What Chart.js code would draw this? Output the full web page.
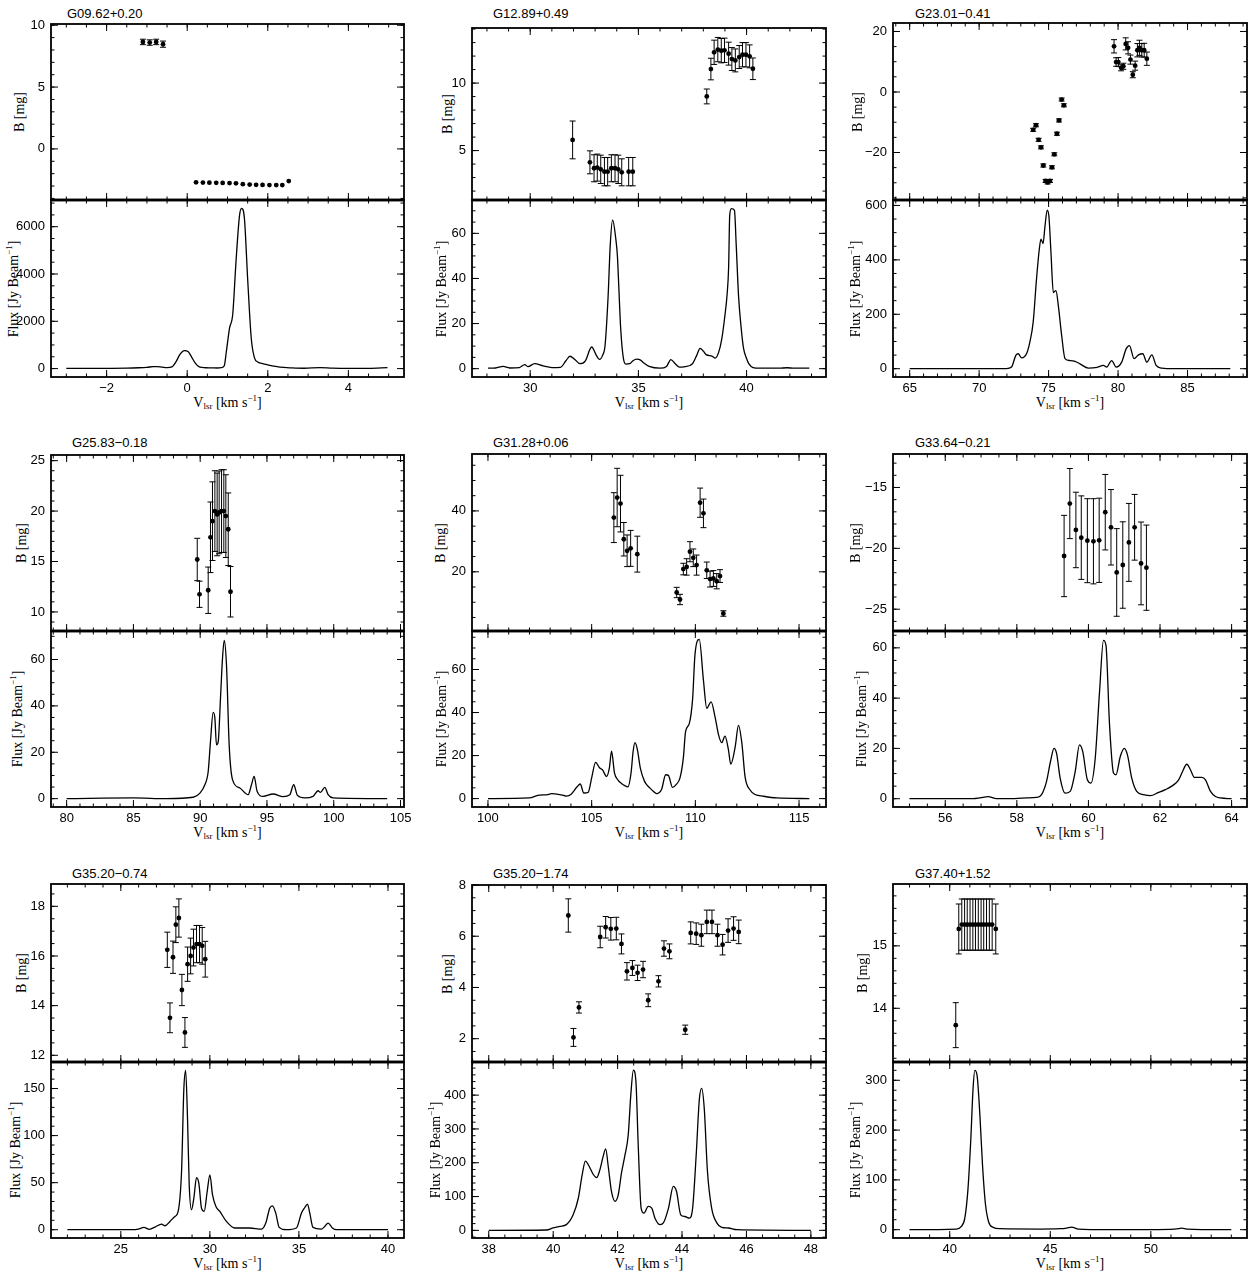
<!DOCTYPE html>
<html lang="en">
<head>
  <meta charset="UTF-8">
  <title>Zeeman B field and maser spectra</title>
  <script src="https://cdn.jsdelivr.net/npm/chart.js"></script>
  <style>
    html, body {
      margin: 0;
      padding: 0;
      width: 1250px;
      height: 1274px;
      overflow: hidden;
      background: #fff;
    }
    canvas { position: absolute; }
    .title {
      position: absolute;
      font: 13px "Liberation Sans", Arial, sans-serif;
      line-height: 1;
      white-space: nowrap;
      color: #000;
    }
    .ylab, .xlab {
      position: absolute;
      font: 14px "Liberation Serif", "Times New Roman", serif;
      line-height: 1;
      white-space: nowrap;
      color: #000;
    }
    .ylab { transform: translate(-50%, -50%) rotate(-90deg); }
    .xlab { transform: translate(-50%, -50%); }
    sub { font-size: 9px; vertical-align: -2px; }
    sup { font-size: 9px; vertical-align: 6px; }
  </style>
</head>
<body>
  <script>
    // ---- G09.62+0.20 ----
    const p1_name = 'G09.62+0.20';
    const p1_bV = [-1.10, -0.93, -0.77, -0.60, 0.22, 0.39, 0.55, 0.72, 0.88, 1.05, 1.21, 1.38, 1.55, 1.71, 1.87, 2.04, 2.21, 2.36, 2.52];
    const p1_b = [8.65, 8.60, 8.65, 8.47, -2.70, -2.72, -2.73, -2.74, -2.75, -2.76, -2.78, -2.85, -2.88, -2.90, -2.91, -2.92, -2.92, -2.92, -2.60];
    const p1_bErr = [0.22, 0.22, 0.22, 0.25, 0, 0, 0, 0, 0, 0, 0, 0, 0, 0, 0, 0, 0, 0, 0];
    const p1_sV = [-3.0, -2.5, -2.0, -1.5, -1.2, -1.0, -0.85, -0.75, -0.62, -0.5,
      -0.38, -0.28, -0.18, -0.07, 0.02, 0.1, 0.2, 0.3, 0.45, 0.6,
      0.75, 0.85, 0.92, 0.97, 1.05, 1.13, 1.21, 1.3, 1.35, 1.42,
      1.5, 1.59, 1.67, 1.75, 1.85, 2.0, 2.15, 2.3, 2.6, 2.9,
      3.3, 3.6, 4.0, 4.5, 4.97];
    const p1_s = [10, 10, 12, 18, 35, 55, 80, 85, 60, 40,
      70, 280, 600, 760, 720, 520, 230, 70, 35, 30,
      25, 40, 120, 700, 1700, 2300, 4500, 6500, 6780, 6350,
      3800, 1270, 450, 280, 220, 160, 100, 60, 30, 15,
      40, 20, 10, 10, 40];
    const p1_xTicks = [-2, 0, 2, 4];
    const p1_bTicks = [0, 5, 10];
    const p1_sTicks = [0, 2000, 4000, 6000];

    // ---- G12.89+0.49 ----
    const p2_name = 'G12.89+0.49';
    const p2_bV = [31.96, 32.76, 32.95, 33.10, 33.26, 33.43, 33.58, 33.75, 33.92, 34.07, 34.23, 34.55, 34.74,
      38.16, 38.35, 38.50, 38.67, 38.83, 38.98, 39.17, 39.32, 39.48, 39.66, 39.81, 39.97, 40.14, 40.29];
    const p2_b = [5.79, 4.13, 3.69, 3.74, 3.61, 3.44, 3.44, 3.69, 3.69, 3.61, 3.39, 3.44, 3.44,
      9.01, 11.04, 12.28, 12.48, 12.40, 12.43, 12.18, 11.78, 11.68, 11.93, 12.10, 12.10, 11.98, 11.06];
    const p2_bErr = [1.4, 0.85, 1.0, 1.0, 1.05, 1.05, 1.05, 1.0, 1.0, 1.05, 1.0, 1.05, 1.05,
      0.55, 0.8, 0.9, 0.9, 0.9, 0.9, 0.85, 0.85, 0.85, 0.85, 0.9, 0.9, 0.85, 0.8];
    const p2_sV = [28.05, 28.4, 28.75, 29.05, 29.5, 29.75, 29.9, 30.2, 30.6, 31.0,
      31.4, 31.65, 31.84, 32.05, 32.3, 32.55, 32.84, 33.05, 33.2, 33.35,
      33.46, 33.6, 33.7, 33.81, 33.95, 34.03, 34.1, 34.18, 34.3, 34.42,
      34.6, 34.75, 34.92, 35.1, 35.25, 35.5, 36.0, 36.3, 36.5, 36.7,
      36.9, 37.1, 37.5, 37.7, 37.85, 38.0, 38.13, 38.4, 38.55, 38.7,
      38.85, 39.0, 39.1, 39.17, 39.22, 39.3, 39.44, 39.52, 39.63, 39.75,
      39.86, 40.0, 40.1, 40.3, 40.6, 41.5, 41.87, 42.2, 42.9];
    const p2_s = [0.2, 0.3, 1.0, 0.3, 0.5, 1.8, 0.9, 2.2, 1.2, 0.5,
      0.6, 3.5, 5.5, 4.2, 2.2, 3.5, 9.6, 6, 4.1, 6,
      10.4, 32, 55, 66, 58, 50, 35, 18, 5, 2,
      2.2, 3.5, 4.2, 3.8, 2.5, 1, 0.2, 1, 4.0, 2.2,
      0.7, 0.8, 2.2, 6, 9, 7.8, 6.2, 5.6, 4.7, 7,
      13, 23.7, 33, 45, 68, 71, 70.2, 55, 32, 18,
      9, 4.5, 2.2, 0.5, 0.2, 0.2, 0.4, 0.2, 0.2];
    const p2_xTicks = [30, 35, 40];
    const p2_bTicks = [5, 10];
    const p2_sTicks = [0, 20, 40, 60];

    // ---- G23.01-0.41 ----
    const p3_name = 'G23.01\u22120.41';
    const p3_bV = [73.89, 74.09, 74.28, 74.45, 74.62, 74.78, 74.93, 75.10, 75.24, 75.41, 75.60, 75.75, 75.94, 76.10,
      79.71, 79.86, 80.02, 80.22, 80.38, 80.55, 80.72, 80.89, 81.06, 81.23, 81.39, 81.54, 81.71, 81.88, 82.07];
    const p3_b = [-12.5, -11.0, -15.8, -18.3, -24.3, -29.4, -29.9, -29.4, -24.9, -20.6, -13.8, -9.4, -2.5, -4.4,
      15.1, 9.9, 9.9, 8.0, 8.5, 15.9, 14.6, 10.7, 5.7, 8.7, 13.8, 14.6, 13.8, 13.8, 11.0];
    const p3_bErr = [0.5, 0.5, 0.5, 0.5, 0.5, 0.5, 0.5, 0.5, 0.5, 0.5, 0.5, 0.5, 0.5, 0.5,
      2.2, 1.4, 1.5, 1.0, 1.0, 2.0, 2.0, 1.5, 1.0, 1.5, 2.2, 2.5, 2.2, 2.3, 2.2];
    const p3_sV = [65, 70, 71.97, 72.33, 72.64, 72.81, 73.05, 73.41, 73.65, 73.89,
      74.13, 74.33, 74.45, 74.6, 74.74, 74.9, 75.02, 75.17, 75.34, 75.53,
      75.7, 75.94, 76.18, 76.54, 76.9, 77.26, 77.86, 78.5, 78.94, 79.18,
      79.54, 79.86, 80.26, 80.58, 80.82, 81.15, 81.47, 81.78, 82.07, 82.43,
      82.74, 83.15, 84, 88.08];
    const p3_s = [0, 0, 0, 6, 49, 55, 40, 55, 98, 171,
      330, 439, 476, 460, 524, 583, 561, 427, 280, 287,
      232, 122, 37, 30, 27, 18, 2, 5, 12, 6,
      30, 6, 24, 73, 85, 37, 51, 55, 24, 51,
      12, 2, 0, 0];
    const p3_xTicks = [65, 70, 75, 80, 85];
    const p3_bTicks = [-20, 0, 20];
    const p3_sTicks = [0, 200, 400, 600];

    // ---- G25.83-0.18 ----
    const p4_name = 'G25.83\u22120.18';
    const p4_bV = [89.78, 89.95, 90.60, 90.77, 90.92, 91.10, 91.27, 91.42, 91.60, 91.77, 91.92, 92.10, 92.27];
    const p4_b = [15.2, 11.75, 12.15, 17.4, 19.0, 20.0, 19.67, 19.87, 20.0, 20.0, 19.5, 18.2, 12.0];
    const p4_bErr = [2.1, 1.3, 2.3, 3.5, 3.9, 4.0, 4.1, 4.1, 4.1, 4.1, 4.1, 3.6, 2.5];
    const p4_sV = [80, 85, 87.5, 89.48, 89.98, 90.35, 90.6, 90.77, 90.97, 91.1,
      91.22, 91.35, 91.52, 91.67, 91.8, 91.97, 92.17, 92.42, 92.97, 93.59,
      93.84, 94.04, 94.26, 94.71, 95.46, 96.21, 96.71, 97.0, 97.28, 97.83,
      98.45, 98.83, 99.0, 99.33, 99.58, 99.95, 104];
    const p4_s = [0, 0.3, 0, 0.6, 2.4, 6, 11.7, 24.6, 37.2, 34.7,
      23.2, 24.6, 43.3, 60.5, 68.3, 57.6, 23.2, 8.2, 4.6, 1.7,
      6, 9.6, 3.2, 1, 2, 0.9, 1.7, 6, 1.4, 0.3,
      1, 3.4, 2.7, 4.9, 1.7, 0.3, 0];
    const p4_xTicks = [80, 85, 90, 95, 100, 105];
    const p4_bTicks = [10, 15, 20, 25];
    const p4_sTicks = [0, 20, 40, 60];

    // ---- G31.28+0.06 ----
    const p5_name = 'G31.28+0.06';
    const p5_bV = [106.07, 106.23, 106.39, 106.55, 106.71, 106.88, 107.20, 109.10, 109.26, 109.42, 109.58,
      109.74, 109.90, 110.06, 110.23, 110.39, 110.55, 110.71, 110.87, 111.03, 111.19, 111.35];
    const p5_b = [37.8, 44.4, 42.4, 30.7, 26.9, 27.7, 25.8, 13.2, 10.9, 20.9, 21.6,
      26.6, 24.6, 22.2, 42.7, 39.2, 20.5, 17.6, 17.8, 16.9, 18.6, 6.3];
    const p5_bErr = [8.2, 9.6, 9.3, 5.5, 5.2, 5.9, 5.9, 1.7, 1.7, 1.9, 2.7,
      3.3, 2.9, 3.3, 4.8, 4.7, 2.7, 2.6, 2.6, 2.5, 2.1, 0.9];
    const p5_sV = [100, 102.0, 102.4, 102.9, 103.06, 103.46, 103.78, 104.0, 104.3, 104.45,
      104.62, 104.83, 105.0, 105.19, 105.39, 105.52, 105.72, 105.85, 105.96, 106.1,
      106.28, 106.44, 106.6, 106.75, 106.9, 107.0, 107.09, 107.2, 107.35, 107.55,
      107.8, 107.97, 108.13, 108.37, 108.57, 108.7, 108.9, 109.07, 109.26, 109.42,
      109.53, 109.71, 109.87, 109.98, 110.19, 110.39, 110.55, 110.76, 110.95, 111.11,
      111.27, 111.43, 111.59, 111.71, 111.92, 112.08, 112.24, 112.4, 112.64, 112.88,
      113.29, 113.93, 115.5];
    const p5_s = [0, 0.3, 1.5, 1.9, 2.3, 1.9, 1.2, 1.9, 5.5, 6.8,
      2.6, 2.9, 9.6, 16.8, 14.2, 13.4, 10.3, 14, 22, 12,
      8.5, 7, 6, 5.5, 12, 22, 26, 23, 14, 8,
      5, 3.4, 2.3, 4.2, 11.1, 10.8, 5.2, 6.5, 9.6, 18.8,
      31.2, 35, 46.6, 66.7, 74, 55, 42, 45, 38, 30,
      26, 29, 23, 16, 24, 34, 26, 10, 4, 1.9,
      1.1, 0.3, 0];
    const p5_xTicks = [100, 105, 110, 115];
    const p5_bTicks = [20, 40];
    const p5_sTicks = [0, 20, 40, 60];

    // ---- G33.64-0.21 ----
    const p6_name = 'G33.64\u22120.21';
    const p6_bV = [59.32, 59.48, 59.65, 59.80, 59.97, 60.14, 60.30, 60.47, 60.63, 60.79, 60.96, 61.13, 61.29, 61.47, 61.62];
    const p6_b = [-20.63, -16.32, -18.49, -19.12, -19.37, -19.42, -19.34, -17.03, -18.27, -21.98, -21.37, -19.51, -18.27, -21.24, -21.59];
    const p6_bErr = [3.34, 2.88, 3.1, 3.43, 3.45, 3.5, 3.46, 3.1, 3.1, 3.6, 3.55, 3.2, 2.7, 3.4, 3.5];
    const p6_sV = [55, 56.78, 56.97, 57.2, 57.43, 57.71, 58.27, 58.55, 58.69, 58.83,
      58.94, 59.04, 59.11, 59.21, 59.35, 59.49, 59.63, 59.75, 59.84, 59.97,
      60.07, 60.19, 60.31, 60.42, 60.49, 60.59, 60.7, 60.77, 60.89, 61.0,
      61.09, 61.21, 61.35, 61.54, 61.73, 61.96, 62.15, 62.38, 62.52, 62.61,
      62.75, 62.85, 62.96, 63.17, 63.27, 63.41, 63.55, 63.69, 64];
    const p6_s = [0, 0, 0.3, 0.8, 0, 0, 0.3, 0.5, 1.6, 6.9,
      14.8, 20, 18, 8.2, 2.2, 2.9, 10.8, 21.4, 18.8, 7.5,
      6.2, 16.1, 42.5, 63, 61, 29.3, 10.2, 9.5, 16.8, 20,
      17.4, 8.2, 2.9, 1.6, 1.2, 2.5, 3.6, 5.5, 7.5, 10.2,
      13.7, 11.5, 8.5, 8.5, 7.5, 2.9, 0.9, 0.3, 0];
    const p6_xTicks = [56, 58, 60, 62, 64];
    const p6_bTicks = [-25, -20, -15];
    const p6_sTicks = [0, 20, 40, 60];

    // ---- G35.20-0.74 ----
    const p7_name = 'G35.20\u22120.74';
    const p7_bV = [27.61, 27.76, 27.93, 28.09, 28.26, 28.43, 28.60, 28.75, 28.92, 29.08, 29.25, 29.42, 29.57, 29.74];
    const p7_b = [16.25, 13.51, 15.95, 17.26, 17.53, 14.63, 12.92, 15.67, 16.0, 16.34, 16.48, 16.48, 16.41, 15.87];
    const p7_bErr = [0.71, 0.6, 0.65, 0.72, 0.77, 0.63, 0.6, 0.69, 0.72, 0.74, 0.75, 0.75, 0.74, 0.72];
    const p7_sV = [22, 25.7, 25.98, 26.3, 26.6, 26.92, 27.29, 27.48, 27.76, 28.04,
      28.22, 28.41, 28.54, 28.64, 28.75, 28.84, 28.97, 29.1, 29.25, 29.38,
      29.53, 29.68, 29.85, 30.0, 30.15, 30.34, 30.56, 30.93, 31.4, 32.24,
      32.9, 33.14, 33.36, 33.51, 33.7, 33.89, 34.3, 34.86, 35.14, 35.33,
      35.48, 35.61, 35.79, 36.26, 36.45, 36.64, 36.88, 37.1, 40];
    const p7_s = [0, 0, 0.7, 2.5, 0.4, 2.8, 6, 4.2, 8.8, 14.1,
      19.4, 61.8, 150, 169.4, 114.7, 47.7, 21.2, 33.5, 55.4, 49.4,
      22.9, 19.4, 40.6, 58.2, 37.1, 24.7, 19.4, 8.8, 1.8, 1.8,
      0.7, 7.1, 22.9, 25.4, 17.6, 2.5, 0, 1.8, 17.6, 23.6,
      27.2, 17.6, 2.5, 0.7, 3.5, 7.1, 1.8, 0, 0];
    const p7_xTicks = [25, 30, 35, 40];
    const p7_bTicks = [12, 14, 16, 18];
    const p7_sTicks = [0, 50, 100, 150];

    // ---- G35.20-1.74 ----
    const p8_name = 'G35.20\u22121.74';
    const p8_bV = [40.47, 40.63, 40.80, 41.46, 41.63, 41.79, 41.96, 42.12, 42.29, 42.46, 42.62, 42.79, 42.95,
      43.27, 43.44, 43.61, 44.10, 44.27, 44.44, 44.60, 44.77, 44.93, 45.10, 45.26, 45.43, 45.60, 45.76];
    const p8_b = [6.81, 2.05, 3.22, 5.97, 6.35, 6.29, 6.30, 5.70, 4.63, 4.76, 4.57, 4.70, 3.50,
      4.24, 5.52, 5.41, 2.35, 6.13, 6.10, 6.04, 6.56, 6.56, 6.04, 5.67, 6.22, 6.30, 6.17];
    const p8_bErr = [0.65, 0.35, 0.22, 0.42, 0.42, 0.44, 0.44, 0.39, 0.34, 0.29, 0.30, 0.32, 0.25,
      0.22, 0.30, 0.29, 0.18, 0.43, 0.42, 0.43, 0.46, 0.46, 0.43, 0.40, 0.46, 0.46, 0.46];
    const p8_sV = [38, 39.79, 40.0, 40.21, 40.41, 40.62, 40.78, 40.9, 41.0, 41.12,
      41.24, 41.35, 41.45, 41.55, 41.63, 41.71, 41.81, 41.92, 42.02, 42.12,
      42.23, 42.33, 42.41, 42.49, 42.57, 42.64, 42.73, 42.82, 42.95, 43.06,
      43.16, 43.32, 43.42, 43.58, 43.73, 43.83, 43.96, 44.09, 44.23, 44.33,
      44.44, 44.54, 44.61, 44.69, 44.79, 44.92, 45.08, 45.23, 45.44, 45.7,
      48];
    const p8_s = [0, 1, 7, 12, 17, 46, 95, 164, 205, 189,
      166, 156, 179, 218, 241, 189, 115, 86, 105, 169,
      223, 282, 400, 474, 439, 253, 66, 51, 71, 66,
      36, 17, 22, 66, 130, 115, 46, 41, 36, 66,
      223, 390, 420, 361, 174, 66, 22, 9, 7, 2,
      0];
    const p8_xTicks = [38, 40, 42, 44, 46, 48];
    const p8_bTicks = [2, 4, 6, 8];
    const p8_sTicks = [0, 100, 200, 300, 400];

    // ---- G37.40+1.52 ----
    const p9_name = 'G37.40+1.52';
    const p9_bV = [40.30, 40.45, 40.60, 40.74, 40.87, 41.01, 41.15, 41.28, 41.42, 41.56, 41.69, 41.83, 41.97, 42.11, 42.29];
    const p9_b = [13.73, 15.27, 15.34, 15.34, 15.34, 15.34, 15.34, 15.34, 15.34, 15.34, 15.34, 15.34, 15.34, 15.34, 15.27];
    const p9_bErr = [0.36, 0.40, 0.41, 0.41, 0.41, 0.41, 0.41, 0.41, 0.41, 0.41, 0.41, 0.41, 0.41, 0.41, 0.40];
    const p9_sV = [38, 40.33, 40.58, 40.75, 40.91, 41.05, 41.16, 41.25, 41.36, 41.5,
      41.63, 41.78, 41.94, 42.16, 42.49, 44.49, 45.48, 45.81, 46.06, 46.4,
      47.81, 50.96, 51.38, 51.54, 51.79, 54];
    const p9_s = [0, 1.3, 6.7, 23, 83, 183, 283, 320, 310, 230,
      130, 50, 15, 4.7, 2, 1.3, 2, 3.3, 5.3, 1.3,
      0, 0.7, 2, 3.3, 1.3, 0];
    const p9_xTicks = [40, 45, 50];
    const p9_bTicks = [14, 15];
    const p9_sTicks = [0, 100, 200, 300];

    // axis limits [velocity, B, flux] and minor tick steps
    const panels = [
      { name: p1_name, bV: p1_bV, b: p1_b, bErr: p1_bErr, sV: p1_sV, s: p1_s, xTicks: p1_xTicks, bTicks: p1_bTicks, sTicks: p1_sTicks,
        xRange: [-3.38, 5.38], bRange: [-4.13, 10.1], sRange: [-356, 7130], minor: [0.5, 1, 500] },
      { name: p2_name, bV: p2_bV, b: p2_b, bErr: p2_bErr, sV: p2_sV, s: p2_s, xTicks: p2_xTicks, bTicks: p2_bTicks, sTicks: p2_sTicks,
        xRange: [27.31, 43.67], bRange: [1.34, 14.08], sRange: [-3.7, 74.8], minor: [1, 1, 5] },
      { name: p3_name, bV: p3_bV, b: p3_b, bErr: p3_bErr, sV: p3_sV, s: p3_s, xTicks: p3_xTicks, bTicks: p3_bTicks, sTicks: p3_sTicks,
        xRange: [63.8, 89.28], bRange: [-35.7, 22.8], sRange: [-30.5, 620], minor: [1, 5, 50] },
      { name: p4_name, bV: p4_bV, b: p4_b, bErr: p4_bErr, sV: p4_sV, s: p4_s, xTicks: p4_xTicks, bTicks: p4_bTicks, sTicks: p4_sTicks,
        xRange: [78.83, 105.26], bRange: [8.11, 25.56], sRange: [-3.6, 72.3], minor: [1, 1, 5] },
      { name: p5_name, bV: p5_bV, b: p5_b, bErr: p5_bErr, sV: p5_sV, s: p5_s, xTicks: p5_xTicks, bTicks: p5_bTicks, sTicks: p5_sTicks,
        xRange: [99.23, 116.3], bRange: [0.55, 58.7], sRange: [-3.9, 77.9], minor: [1, 5, 5] },
      { name: p6_name, bV: p6_bV, b: p6_b, bErr: p6_bErr, sV: p6_sV, s: p6_s, xTicks: p6_xTicks, bTicks: p6_bTicks, sTicks: p6_sTicks,
        xRange: [54.54, 64.43], bRange: [-26.79, -12.25], sRange: [-3.3, 66.7], minor: [0.5, 1, 5] },
      { name: p7_name, bV: p7_bV, b: p7_b, bErr: p7_bErr, sV: p7_sV, s: p7_s, xTicks: p7_xTicks, bTicks: p7_bTicks, sTicks: p7_sTicks,
        xRange: [21.08, 40.9], bRange: [11.73, 18.9], sRange: [-8.8, 178.2], minor: [1, 0.5, 10] },
      { name: p8_name, bV: p8_bV, b: p8_b, bErr: p8_bErr, sV: p8_sV, s: p8_s, xTicks: p8_xTicks, bTicks: p8_bTicks, sTicks: p8_sTicks,
        xRange: [37.48, 48.47], bRange: [1.09, 8.0], sRange: [-22.6, 498], minor: [0.5, 0.5, 20] },
      { name: p9_name, bV: p9_bV, b: p9_b, bErr: p9_bErr, sV: p9_sV, s: p9_s, xTicks: p9_xTicks, bTicks: p9_bTicks, sTicks: p9_sTicks,
        xRange: [37.18, 54.78], bRange: [13.14, 15.99], sRange: [-16.7, 336.7], minor: [1, 0.2, 20] }
    ];

    // page placement of each panel's plot boxes (left, right, top, middle, bottom)
    const layout = [
      { L: 51,  R: 404,  T: 24,  M: 200,  B: 377,  tx: 67,  ty: 13,  bOff: 31, fOff: 38 },
      { L: 472, R: 826,  T: 28,  M: 200,  B: 377,  tx: 493, ty: 13,  bOff: 24, fOff: 31 },
      { L: 893, R: 1247, T: 23,  M: 200,  B: 377,  tx: 915, ty: 13,  bOff: 35, fOff: 38 },
      { L: 51,  R: 404,  T: 455, M: 631,  B: 807,  tx: 72,  ty: 442, bOff: 29, fOff: 34 },
      { L: 472, R: 826,  T: 454, M: 631,  B: 807,  tx: 493, ty: 442, bOff: 31, fOff: 31 },
      { L: 893, R: 1247, T: 454, M: 631,  B: 807,  tx: 915, ty: 442, bOff: 37, fOff: 32 },
      { L: 51,  R: 404,  T: 884, M: 1062, B: 1238, tx: 72,  ty: 873, bOff: 29, fOff: 36 },
      { L: 472, R: 826,  T: 885, M: 1062, B: 1238, tx: 493, ty: 873, bOff: 24, fOff: 37 },
      { L: 893, R: 1247, T: 884, M: 1062, B: 1238, tx: 915, ty: 873, bOff: 30, fOff: 38 }
    ];

    const TICK_FONT = { family: '"Liberation Sans", Arial, sans-serif', size: 13 };
    const AX_W = 50, PAD_T = 8, PAD_R = 14, PAD_B = 8, XAX_H = 24;

    // PGPLOT style minus sign
    const fmt = v => (v < 0 ? '\u2212' + Math.abs(v) : String(v));

    function minorValues(min, max, step) {
      const out = [];
      for (let k = Math.ceil(min / step - 1e-9); k * step <= max + 1e-9; k++) out.push(k * step);
      return out;
    }

    // box round the plot with inward ticks on all four sides; the shared edge is drawn a bit heavier
    function framePlugin(spec) {
      return {
        id: 'frame',
        afterDraw(chart) {
          const { ctx, chartArea: a, scales: { x, y } } = chart;
          ctx.save();
          ctx.strokeStyle = '#000';
          ctx.lineWidth = 1;
          ctx.beginPath();
          const xt = (v, len) => {
            const px = x.getPixelForValue(v);
            ctx.moveTo(px, a.top); ctx.lineTo(px, a.top + len);
            ctx.moveTo(px, a.bottom); ctx.lineTo(px, a.bottom - len);
          };
          const yt = (v, len) => {
            const py = y.getPixelForValue(v);
            ctx.moveTo(a.left, py); ctx.lineTo(a.left + len, py);
            ctx.moveTo(a.right, py); ctx.lineTo(a.right - len, py);
          };
          minorValues(x.min, x.max, spec.xMinor).forEach(v => xt(v, 3.5));
          minorValues(y.min, y.max, spec.yMinor).forEach(v => yt(v, 3.5));
          spec.xMajor.forEach(v => xt(v, 7));
          spec.yMajor.forEach(v => yt(v, 7));
          ctx.stroke();
          ctx.lineWidth = 1.8;
          ctx.strokeRect(a.left, a.top, a.right - a.left, a.bottom - a.top);
          ctx.lineWidth = 2.4;
          ctx.beginPath();
          const ey = spec.shared === 'bottom' ? a.bottom : a.top;
          ctx.moveTo(a.left, ey); ctx.lineTo(a.right, ey);
          ctx.stroke();
          ctx.restore();
        }
      };
    }

    const errorBars = {
      id: 'errorBars',
      afterDatasetsDraw(chart) {
        const { ctx, chartArea: a, scales: { y } } = chart;
        chart.data.datasets.forEach((ds, i) => {
          if (!ds.errors) return;
          const meta = chart.getDatasetMeta(i);
          ctx.save();
          ctx.beginPath();
          ctx.rect(a.left, a.top, a.right - a.left, a.bottom - a.top);
          ctx.clip();
          ctx.strokeStyle = '#000';
          ctx.lineWidth = 1;
          ctx.beginPath();
          meta.data.forEach((pt, j) => {
            const e = ds.errors[j];
            if (!e) return;
            const v = ds.data[j].y;
            const y0 = y.getPixelForValue(v - e), y1 = y.getPixelForValue(v + e);
            ctx.moveTo(pt.x, y0); ctx.lineTo(pt.x, y1);
            ctx.moveTo(pt.x - 3, y0); ctx.lineTo(pt.x + 3, y0);
            ctx.moveTo(pt.x - 3, y1); ctx.lineTo(pt.x + 3, y1);
          });
          ctx.stroke();
          ctx.restore();
        });
      }
    };

    function makeScale(range, ticks, horizontal, show) {
      return {
        type: 'linear',
        min: range[0],
        max: range[1],
        display: show,
        grid: { display: false, drawTicks: false },
        border: { display: false },
        ticks: { font: TICK_FONT, color: '#000', padding: horizontal ? 4 : 6, autoSkip: false, maxRotation: 0, callback: fmt },
        afterBuildTicks: s => { s.ticks = ticks.map(v => ({ value: v })); },
        afterFit: s => {
          if (horizontal) s.height = show ? XAX_H : 0; else s.width = AX_W;
          s.paddingLeft = 0; s.paddingRight = 0; s.paddingTop = 0; s.paddingBottom = 0;
        }
      };
    }

    function baseOptions(padding, x, y) {
      return {
        responsive: false,
        animation: false,
        events: [],
        devicePixelRatio: 1,
        layout: { padding, autoPadding: false },
        plugins: { legend: { display: false }, tooltip: { enabled: false } },
        scales: { x, y }
      };
    }

    function addCanvas(left, top, w, h) {
      const c = document.createElement('canvas');
      c.width = w; c.height = h;
      c.style.left = left + 'px'; c.style.top = top + 'px';
      c.style.width = w + 'px'; c.style.height = h + 'px';
      document.body.appendChild(c);
      return c;
    }

    function addText(cls, html, x, y) {
      const d = document.createElement('div');
      d.className = cls;
      d.innerHTML = html;
      d.style.left = x + 'px';
      d.style.top = y + 'px';
      document.body.appendChild(d);
    }

    panels.forEach((p, i) => {
      const g = layout[i];
      addText('title', p.name, g.tx, g.ty - 6);
      addText('ylab', 'B [mg]', g.L - g.bOff, (g.T + g.M) / 2);
      addText('ylab', 'Flux [Jy Beam<sup>\u22121</sup>]', g.L - g.fOff, (g.M + g.B) / 2);
      addText('xlab', 'V<sub>lsr</sub> [km s<sup>\u22121</sup>]', (g.L + g.R) / 2, g.B + 25);

      const w = AX_W + (g.R - g.L) + PAD_R;

      // upper panel: field strength with error bars
      const cTop = addCanvas(g.L - AX_W, g.T - PAD_T, w, PAD_T + (g.M - g.T) + PAD_B);
      new Chart(cTop, {
        type: 'scatter',
        data: {
          datasets: [{
            data: p.bV.map((v, j) => ({ x: v, y: p.b[j] })),
            errors: p.bErr,
            pointRadius: 2.4,
            pointBackgroundColor: '#000',
            pointBorderWidth: 0
          }]
        },
        options: baseOptions({ left: 0, top: PAD_T, right: PAD_R, bottom: PAD_B },
          makeScale(p.xRange, p.xTicks, true, false),
          makeScale(p.bRange, p.bTicks, false, true)),
        plugins: [errorBars, framePlugin({ xMajor: p.xTicks, yMajor: p.bTicks, xMinor: p.minor[0], yMinor: p.minor[1], shared: 'bottom' })]
      });

      // lower panel: maser spectrum
      const cBot = addCanvas(g.L - AX_W, g.M - PAD_T, w, PAD_T + (g.B - g.M) + XAX_H);
      new Chart(cBot, {
        type: 'line',
        data: {
          datasets: [{
            data: p.sV.map((v, j) => ({ x: v, y: p.s[j] })),
            borderColor: '#000',
            borderWidth: 1.3,
            pointRadius: 0,
            fill: false,
            cubicInterpolationMode: 'monotone'
          }]
        },
        options: baseOptions({ left: 0, top: PAD_T, right: PAD_R, bottom: 0 },
          makeScale(p.xRange, p.xTicks, true, true),
          makeScale(p.sRange, p.sTicks, false, true)),
        plugins: [framePlugin({ xMajor: p.xTicks, yMajor: p.sTicks, xMinor: p.minor[0], yMinor: p.minor[2], shared: 'top' })]
      });
    });
  </script>
</body>
</html>
